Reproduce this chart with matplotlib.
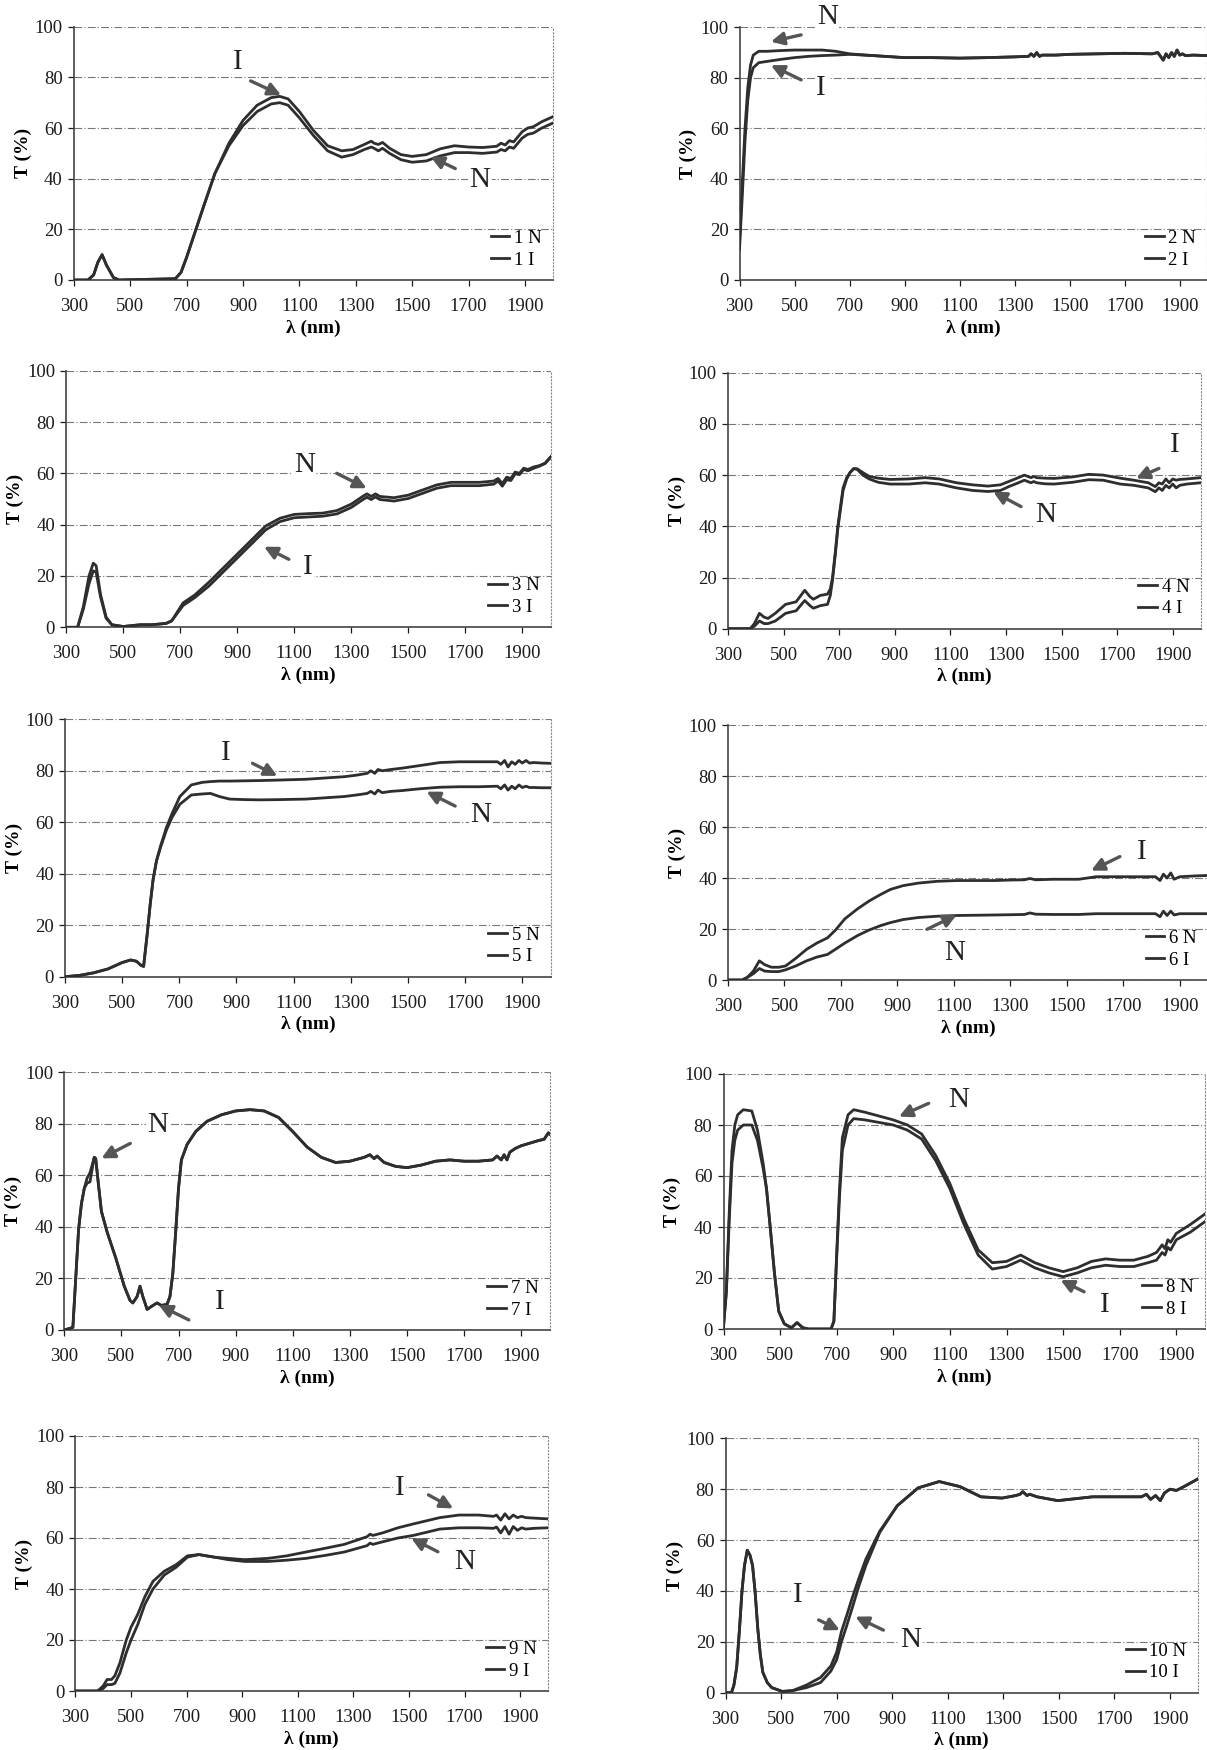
"""Transmittance spectra T(%) vs wavelength for samples 1-10 (N and I)."""

import matplotlib

matplotlib.use("Agg")

import matplotlib.pyplot as plt

W, H = 1207, 1750

# ---- data: wavelength (nm), T (%) ----
wl_1 = [300, 350, 370, 385, 400, 415, 440, 460, 660, 680, 700, 730, 760, 800, 850, 900, 950, 1000,
        1030, 1060, 1100, 1150, 1200, 1250, 1290, 1330, 1355, 1365, 1380, 1395, 1420, 1460, 1500,
        1550, 1600, 1650, 1700, 1750, 1800, 1815, 1830, 1845, 1860, 1875, 1890, 1910, 1930, 1960, 2000]
n_1 = [0, 0, 2, 7, 10, 6, 1, 0, 0.5, 3, 9, 19, 29, 42, 53, 61, 66.5, 69.5,
       70, 69, 64, 57, 51, 48.5, 49.5, 51.5, 52.5, 52, 51, 52, 50, 47.5, 46.5,
       47, 49, 50.3, 50.3, 50, 50.5, 51.5, 51, 52.5, 52, 54, 56, 57.5, 58, 60, 62]
i_1 = [0, 0, 2, 7, 10, 6, 1, 0, 0.5, 3, 9, 19, 29, 42, 54, 63, 69, 72,
       72.5, 71.5, 66.5, 59, 53, 51, 51.5, 53.5, 54.8, 54, 53.5, 54.3, 52, 49.5, 48.8,
       49.5, 51.8, 53, 52.5, 52.3, 52.8, 54, 53.3, 55, 54.5, 56.5, 58.5, 60, 60.5, 62.5, 64.5]

wl_2 = [300, 310, 320, 330, 340, 350, 370, 400, 450, 500, 550, 600, 650, 700, 800, 900, 1000,
        1100, 1200, 1300, 1350, 1360, 1370, 1380, 1390, 1400, 1450, 1500, 1600, 1700, 1800,
        1820, 1840, 1850, 1860, 1870, 1880, 1890, 1900, 1910, 1920, 1950, 2000]
n_2 = [15, 38, 60, 76, 85, 89, 90.5, 90.5, 90.8, 91, 91, 91, 90.5, 89.5, 88.7, 88, 88,
       87.8, 88, 88.3, 88.5, 89.5, 88.5, 90, 88.5, 89, 89, 89.3, 89.5, 89.7, 89.5,
       90, 87, 89.5, 88, 90, 88.5, 91, 89, 89.5, 88.8, 89, 88.8]
i_2 = [12, 33, 55, 71, 80, 84, 86, 86.5, 87.3, 88, 88.5, 88.8, 89, 89.3, 88.7, 88, 88,
       87.8, 88, 88.3, 88.5, 89.5, 88.5, 90, 88.5, 89, 89, 89.3, 89.5, 89.7, 89.5,
       90, 87, 89.5, 88, 90, 88.5, 91, 89, 89.5, 88.8, 89, 88.8]

wl_3 = [300, 340, 360, 380, 395, 405, 420, 440, 460, 500, 560, 600, 650, 670, 690, 710, 750, 800,
        850, 900, 950, 1000, 1050, 1100, 1150, 1200, 1250, 1300, 1340, 1355, 1370, 1385, 1400,
        1450, 1500, 1550, 1600, 1650, 1700, 1750, 1800, 1815, 1830, 1845, 1860, 1875, 1890,
        1905, 1920, 1940, 1960, 1980, 2000]
n_3 = [0, 0, 8, 20, 25, 24, 13, 4, 1, 0.3, 1, 1, 1.5, 2.5, 6, 9.5, 12.5, 17.5,
       23, 28.5, 34, 39.5, 42.5, 44, 44.3, 44.5, 45.5, 48, 51, 52, 51, 52, 51,
       50.5, 51.5, 53.5, 55.5, 56.5, 56.5, 56.5, 57, 58, 56, 58.5, 58, 60.5, 60,
       62, 61.5, 62.5, 63, 64, 66.5]
i_3 = [0, 0, 7, 17, 22, 21.5, 12, 3.5, 1, 0.3, 1, 1, 1.5, 2.5, 5.5, 8.5, 11.5, 16,
       21.5, 27, 32.5, 38, 41.2, 42.7, 43, 43.3, 44.2, 46.7, 49.7, 50.7, 49.8, 50.8, 49.8,
       49.2, 50.2, 52.2, 54.2, 55.2, 55.2, 55.2, 55.8, 57, 55, 57.5, 57.2, 59.8, 59.5,
       61.5, 61, 62, 62.8, 63.8, 66.3]

wl_4 = [300, 380, 395, 413, 430, 444, 470, 507, 545, 576, 595, 607, 632, 658, 668, 676, 686, 695,
        705, 714, 727, 739, 752, 764, 785, 808, 840, 883, 950, 1009, 1060, 1122, 1180, 1235,
        1280, 1310, 1340, 1366, 1390, 1400, 1410, 1440, 1473, 1540, 1598, 1650, 1711, 1760,
        1812, 1837, 1850, 1862, 1875, 1887, 1900, 1912, 1925, 1950, 2000]
n_4 = [0, 0, 1, 3, 2, 2, 3, 6, 7, 11, 9, 8, 9, 9.5, 13, 19, 29, 39,
       47, 54, 58.5, 61, 62.5, 62.3, 60, 58.5, 57.2, 56.5, 56.5, 57, 56.5, 55, 54, 53.6,
       54, 55.5, 56.8, 58, 57, 57.5, 57, 56.6, 56.5, 57.2, 58.2, 58, 56.5, 56,
       55, 53.5, 55, 54, 56, 55, 56.5, 55, 56, 56.5, 57]
i_4 = [0, 0, 2, 6, 4.5, 4, 6, 9.5, 10.5, 15, 12.5, 11.5, 13, 13.5, 15.5, 20, 30, 40,
       48, 55, 59, 61, 62.5, 62.5, 61, 59.5, 58.8, 58.3, 58.5, 59, 58.5, 57, 56.2, 55.7,
       56.2, 57.5, 58.8, 60, 59, 59.5, 59, 58.8, 58.7, 59.3, 60.3, 60, 58.8, 58,
       57, 55.5, 57, 56.5, 58.5, 57, 58.5, 58, 58.3, 58.5, 59]

wl_5 = [300, 350, 400, 450, 500, 530, 550, 565, 575, 588, 598, 608, 620, 635, 655, 675, 702, 742,
        780, 809, 840, 876, 930, 983, 1050, 1143, 1210, 1277, 1320, 1357, 1370, 1384, 1395,
        1410, 1440, 1478, 1540, 1612, 1680, 1746, 1813, 1825, 1838, 1850, 1863, 1875, 1888,
        1900, 1913, 1925, 1940, 1970, 2000]
n_5 = [0, 0.5, 1.5, 3, 5.5, 6.5, 6, 4.5, 4, 17, 28, 37.6, 45, 50.5, 57, 62, 67, 70.6,
       71, 71.2, 70, 69, 68.8, 68.7, 68.8, 69, 69.5, 70, 70.6, 71.2, 72, 71, 72.5,
       71.5, 72, 72.3, 73, 73.6, 73.8, 73.8, 74, 73, 74.5, 72.5, 74, 73, 74.5,
       73.5, 74, 73.5, 73.5, 73.4, 73.4]
i_5 = [0, 0.5, 1.5, 3, 5.5, 6.5, 6, 4.5, 4, 17, 28, 37.6, 45, 51, 58, 63.5, 70, 74.5,
       75.5, 75.8, 76, 76, 76.1, 76.2, 76.4, 76.7, 77.2, 77.7, 78.3, 79, 80, 79, 80.5,
       80, 80.5, 81, 82, 83.2, 83.5, 83.5, 83.5, 82.5, 84, 81.5, 83.5, 82.5, 84,
       83, 84, 83, 83.2, 83, 82.9]

wl_6 = [300, 350, 368, 390, 411, 430, 454, 480, 504, 540, 578, 615, 652, 680, 714, 760, 800, 840,
        875, 920, 974, 1040, 1110, 1180, 1246, 1300, 1350, 1369, 1390, 1450, 1542, 1604, 1700,
        1814, 1830, 1842, 1855, 1868, 1880, 1900, 1950, 2000]
n_6 = [0, 0, 1, 2.5, 4.5, 3.5, 3.3, 3.3, 4, 5.5, 7.5, 9, 10, 12, 14.5, 17.5, 19.6, 21.3,
       22.5, 23.7, 24.5, 25, 25.3, 25.4, 25.5, 25.6, 25.7, 26.3, 25.8, 25.7, 25.7, 26, 26,
       26, 24.8, 27, 25.3, 27, 25.5, 26, 26, 26]
i_6 = [0, 0, 1, 3.5, 7.5, 6, 5, 5, 5.5, 8.5, 12, 14.5, 16.5, 19.5, 24, 28, 31, 33.5,
       35.5, 37, 38, 38.7, 39, 39, 39, 39.2, 39.3, 39.8, 39.3, 39.5, 39.5, 40.5, 40.5,
       40.5, 39, 41.5, 40, 42, 39.5, 40.5, 40.8, 41]

wl_7 = [300, 330, 340, 350, 360, 370, 380, 390, 400, 405, 410, 420, 430, 450, 480, 510, 530, 540,
        555, 565, 575, 590, 610, 625, 640, 660, 670, 680, 690, 700, 710, 730, 760, 800, 850,
        900, 950, 1000, 1050, 1100, 1150, 1200, 1250, 1300, 1350, 1370, 1385, 1395, 1420, 1460,
        1500, 1550, 1600, 1650, 1700, 1750, 1800, 1815, 1830, 1840, 1850, 1860, 1880, 1900,
        1930, 1960, 1980, 1995, 2000]
n_7 = [0, 1, 20, 39, 49, 55, 59, 61, 65, 67, 66.5, 56, 46, 38, 28, 17, 11.5, 10.5,
       13, 17, 13, 8, 9.5, 10.5, 9.5, 10, 13, 22, 38, 55, 66, 72, 77, 81, 83.5,
       85, 85.5, 85, 82.5, 77, 71, 67, 65, 65.5, 67, 68, 66.5, 67.5, 65, 63.5,
       63, 64, 65.5, 66, 65.5, 65.5, 66, 67.5, 66, 68, 66, 69, 70.5, 71.5,
       72.5, 73.5, 74, 76.5, 76]
i_7 = [0, 1, 20, 39, 49, 55, 57, 57.5, 64, 67, 66.5, 56, 46, 38, 28, 17, 11.5, 10.5,
       13, 17, 13, 8, 9.5, 10.5, 9.5, 10, 13, 22, 38, 55, 66, 72, 77, 81, 83.5,
       85, 85.5, 85, 82.5, 77, 71, 67, 65, 65.5, 67, 68, 66.5, 67.5, 65, 63.5,
       63, 64, 65.5, 66, 65.5, 65.5, 66, 67.5, 66, 68, 66, 69, 70.5, 71.5,
       72.5, 73.5, 74, 76.5, 76]

wl_8 = [300, 310, 320, 330, 340, 350, 370, 400, 420, 440, 452, 465, 480, 495, 515, 540, 560, 580,
        600, 680, 690, 700, 710, 720, 740, 760, 800, 850, 900, 950, 1000, 1050, 1100, 1150,
        1200, 1250, 1300, 1350, 1400, 1450, 1500, 1550, 1600, 1650, 1700, 1750, 1800, 1830,
        1850, 1860, 1870, 1880, 1900, 1950, 2000]
n_8 = [1, 15, 45, 70, 80, 84, 86, 85.5, 78, 65, 55, 40, 22, 7, 2, 0.5, 2.5, 0.5,
       0, 0, 3, 30, 55, 75, 84, 86, 85, 83.5, 82, 80, 76.5, 68, 57, 43,
       31, 26, 26.5, 29, 26, 24, 22.5, 24, 26.5, 27.5, 27, 27, 28.5, 30,
       33, 31.5, 35, 34, 37.5, 41, 45]
i_8 = [1, 14, 42, 65, 74, 78, 80, 80, 74, 63, 55, 40, 22, 7, 2, 0.5, 2.5, 0.5,
       0, 0, 3, 28, 52, 70, 80, 82.5, 82, 81, 80, 78, 74.5, 66, 55, 41,
       29, 23.5, 24.5, 27, 24, 22, 20.5, 22, 24, 25, 24.5, 24.5, 26, 27,
       30, 29, 32, 31, 35, 38, 42]

wl_9 = [300, 380, 400, 414, 430, 442, 460, 483, 500, 524, 550, 579, 620, 662, 703, 744, 799, 850,
        909, 992, 1060, 1129, 1200, 1267, 1349, 1360, 1370, 1405, 1460, 1515, 1611, 1680, 1750,
        1804, 1815, 1830, 1845, 1860, 1875, 1890, 1905, 1920, 1950, 2000]
n_9 = [0, 0, 1, 2.5, 2.5, 3, 7, 15, 20, 26, 34, 40, 45.5, 48.5, 52.5, 53.5, 52.5, 51.5,
       50.8, 50.8, 51.3, 52, 53.2, 54.5, 57, 58, 57.5, 58.5, 60, 61, 63.5, 64, 64,
       63.8, 64.3, 62, 64.5, 61.5, 64.5, 63, 64, 63.5, 63.8, 64]
i_9 = [0, 0, 2, 4.5, 4.5, 6, 11, 20, 25, 30, 37, 43, 47, 49.5, 53, 53.5, 52.5, 52,
       51.5, 52, 53, 54.5, 56, 57.5, 60.5, 61.5, 61, 62, 64, 65.5, 68, 69, 69,
       68.5, 69, 67, 69.5, 67.5, 69, 68, 68.5, 68, 67.8, 67.5]

wl_10 = [300, 321, 330, 340, 350, 359, 368, 378, 388, 397, 406, 416, 425, 434, 450, 466, 504, 541,
         591, 642, 679, 700, 717, 735, 755, 780, 805, 855, 918, 993, 1069, 1144, 1219, 1295,
         1345, 1360, 1370, 1385, 1395, 1421, 1496, 1621, 1700, 1797, 1815, 1830, 1848, 1865,
         1880, 1900, 1923, 1950, 1975, 2000]
n_10 = [0, 0, 3, 10, 25, 40, 50, 56, 54, 50, 40, 25, 15, 8, 4, 2, 0.5, 0.8,
        2, 4, 8.5, 13, 20, 26, 33, 42, 50, 63, 73.5, 80.5, 83, 81, 77, 76.5,
        77.5, 78, 79, 77.5, 78, 77, 75.5, 77, 77, 77, 78, 76, 77.5, 75.5,
        78.5, 80, 79.5, 81, 82.5, 84]
i_10 = [0, 0, 3, 10, 25, 40, 50, 56, 54, 50, 40, 25, 15, 8, 4, 2, 0.5, 0.8,
        3, 6, 10.5, 16, 24, 30, 37, 45, 52.5, 63.5, 73.5, 80.5, 83, 81, 77, 76.5,
        77.5, 78, 79, 77.5, 78, 77, 75.5, 77, 77, 77, 78, 76, 77.5, 75.5,
        78.5, 80, 79.5, 81, 82.5, 84]

SERIES = [(wl_1, n_1, i_1), (wl_2, n_2, i_2), (wl_3, n_3, i_3), (wl_4, n_4, i_4),
          (wl_5, n_5, i_5), (wl_6, n_6, i_6), (wl_7, n_7, i_7), (wl_8, n_8, i_8),
          (wl_9, n_9, i_9), (wl_10, n_10, i_10)]

# page position of each panel in pixels: x at 300 nm, x at 2000 nm, y at 100 %, y at 0 %
FRAMES = [(73.9, 553.1, 26.7, 280), (739.5, 1207.3, 27.3, 280),
          (66.2, 550.8, 370.7, 627.3), (728, 1200.6, 372.7, 628.7),
          (65, 550.9, 719.3, 976.7), (728, 1208, 725, 980),
          (64.3, 549.8, 1072.3, 1330), (723.5, 1204.6, 1074, 1329),
          (75.4, 548, 1436, 1691), (725.6, 1197.8, 1438.3, 1692.7)]

# arrow labels: (text, text xy, arrow tail, arrow tip) in data units
LABELS = [
    [("I", (882, 86), (927, 78.6), (1035, 73)), ("N", (1741, 39.5), (1653, 44), (1565, 48.7))],
    [("N", (619, 104), (524, 97), (414, 94.3)), ("I", (597, 75.9), (524, 79.2), (414, 85))],
    [("N", (1135, 63.2), (1249, 60), (1354, 54.2)), ("I", (1148, 23.6), (1081, 26.5), (994, 31.4))],
    [("I", (1906, 71.7), (1850, 62.6), (1768, 58.7)), ("N", (1442, 44.4), (1354, 47.7), (1254, 53.5))],
    [("I", (862, 86.8), (956, 82.9), (1043, 78)), ("N", (1756, 62.8), (1665, 66.3), (1565, 71.9))],
    [("I", (1765, 50.3), (1688, 48.4), (1586, 42.9)), ("N", (1103, 10.5), (1005, 19.9), (1110, 25.5))],
    [("N", (628, 79.6), (531, 72.4), (430, 66.6)), ("I", (843, 11), (736, 3.9), (631, 9.7))],
    [("N", (1130, 89.8), (1025, 88.5), (920, 83.3)), ("I", (1648, 9.4), (1574, 14.6), (1491, 19.2))],
    [("I", (1466, 79.5), (1570, 76.9), (1659, 71.6)), ("N", (1700, 50.7), (1604, 54.6), (1508, 59.9))],
    [("I", (560, 38.4), (635, 28.6), (711, 24.6)), ("N", (966, 20.7), (868, 24.6), (767, 29.9))],
]

LINE = "#2e2e2e"
ARROW = "#555555"

plt.rcParams["font.family"] = ["Liberation Serif", "DejaVu Serif"]

fig = plt.figure(figsize=(W / 100, H / 100), dpi=100)
fig.patch.set_facecolor("white")

for k, ((wl, t_n, t_i), (x0, x1, y100, y0), labels) in enumerate(zip(SERIES, FRAMES, LABELS), start=1):
    ax = fig.add_axes([x0 / W, 1 - y0 / H, (x1 - x0) / W, (y0 - y100) / H])
    ln, = ax.plot(wl, t_n, color=LINE, lw=2.0, zorder=3)
    li, = ax.plot(wl, t_i, color=LINE, lw=2.0, zorder=3)

    ax.set_xlim(300, 2000)
    ax.set_ylim(0, 100)
    ax.set_xticks(range(300, 2000, 200))
    ax.set_yticks(range(0, 101, 20))
    ax.tick_params(labelsize=13.5, colors="#1c1c1c", length=4, width=0.9)
    ax.tick_params(axis="x", pad=9)
    ax.tick_params(axis="y", pad=4)
    ax.yaxis.grid(True, color="#777777", lw=0.8, linestyle=(0, (7, 2, 1, 2)))
    ax.set_axisbelow(True)

    for side in ("left", "bottom"):
        ax.spines[side].set_color("#444444")
        ax.spines[side].set_linewidth(1.2)
    ax.spines["top"].set_visible(False)
    ax.spines["right"].set_color("#888888")
    ax.spines["right"].set_linewidth(0.8)
    ax.spines["right"].set_linestyle((0, (1, 2)))

    ax.set_xlabel("λ (nm)", fontsize=14, fontweight="bold", labelpad=3)
    ax.set_ylabel("T (%)", fontsize=14, fontweight="bold", labelpad=2)

    ax.legend([ln, li], [f"{k} N", f"{k} I"], loc="lower right", frameon=False,
              fontsize=13.5, handlelength=1.0, handletextpad=0.25, labelspacing=0.25,
              borderaxespad=0.2)

    for text, txy, tail, tip in labels:
        ax.text(*txy, text, fontsize=21, ha="center", va="center", color="#222222",
                clip_on=False, zorder=4,
                bbox=dict(facecolor="white", edgecolor="none", pad=1))
        ax.annotate("", xy=tip, xytext=tail, annotation_clip=False,
                    arrowprops=dict(arrowstyle="-|>", color=ARROW, lw=2.4,
                                    mutation_scale=19, shrinkA=0, shrinkB=0))

fig.savefig("out.png", dpi=100)
